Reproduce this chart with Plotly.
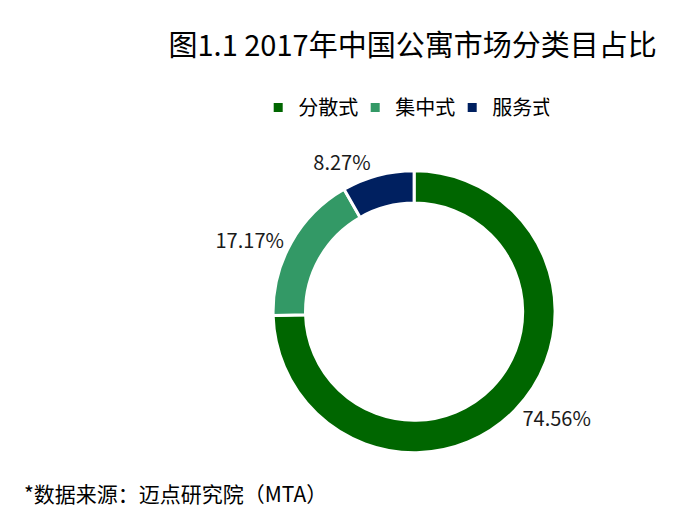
import plotly.graph_objects as go

categories = ["分散式", "集中式", "服务式"]
values = [74.56, 17.17, 8.27]
colors = ["#006600", "#339966", "#002060"]
title_text = "图1.1 2017年中国公寓市场分类目占比"
source_text = "*数据来源：迈点研究院（MTA）"

FONT = "Noto Sans CJK SC, Microsoft YaHei, sans-serif"

fig = go.Figure(go.Pie(
    labels=categories,
    values=values,
    hole=0.77,
    sort=False,
    direction="clockwise",
    rotation=0,
    marker=dict(colors=colors, line=dict(color="white", width=3)),
    texttemplate="%{value:.2f}%",
    textposition="outside",
    textfont=dict(size=20, color="#1a1a1a", family=FONT),
    domain=dict(x=[0.382, 0.790], y=[0.128, 0.681]),
    showlegend=True,
))

fig.update_layout(
    width=693, height=510,
    margin=dict(l=0, r=0, t=0, b=0),
    paper_bgcolor="white",
    plot_bgcolor="white",
    font=dict(family=FONT),
    title=dict(text=title_text, x=0.936, xanchor="right", y=0.925, yanchor="middle",
               font=dict(size=29, color="black", family=FONT)),
    legend=dict(orientation="h", x=0.571, xanchor="center", y=0.805, yanchor="middle",
                font=dict(size=20, color="black", family=FONT), itemwidth=30,
                entrywidth=52, entrywidthmode="pixels",
                traceorder="normal"),
    annotations=[dict(text=source_text, x=0.02, xanchor="left", y=0.05, yanchor="middle",
                      xref="paper", yref="paper", showarrow=False,
                      font=dict(size=21, color="black", family=FONT))],
)

fig.write_html("out.html")
